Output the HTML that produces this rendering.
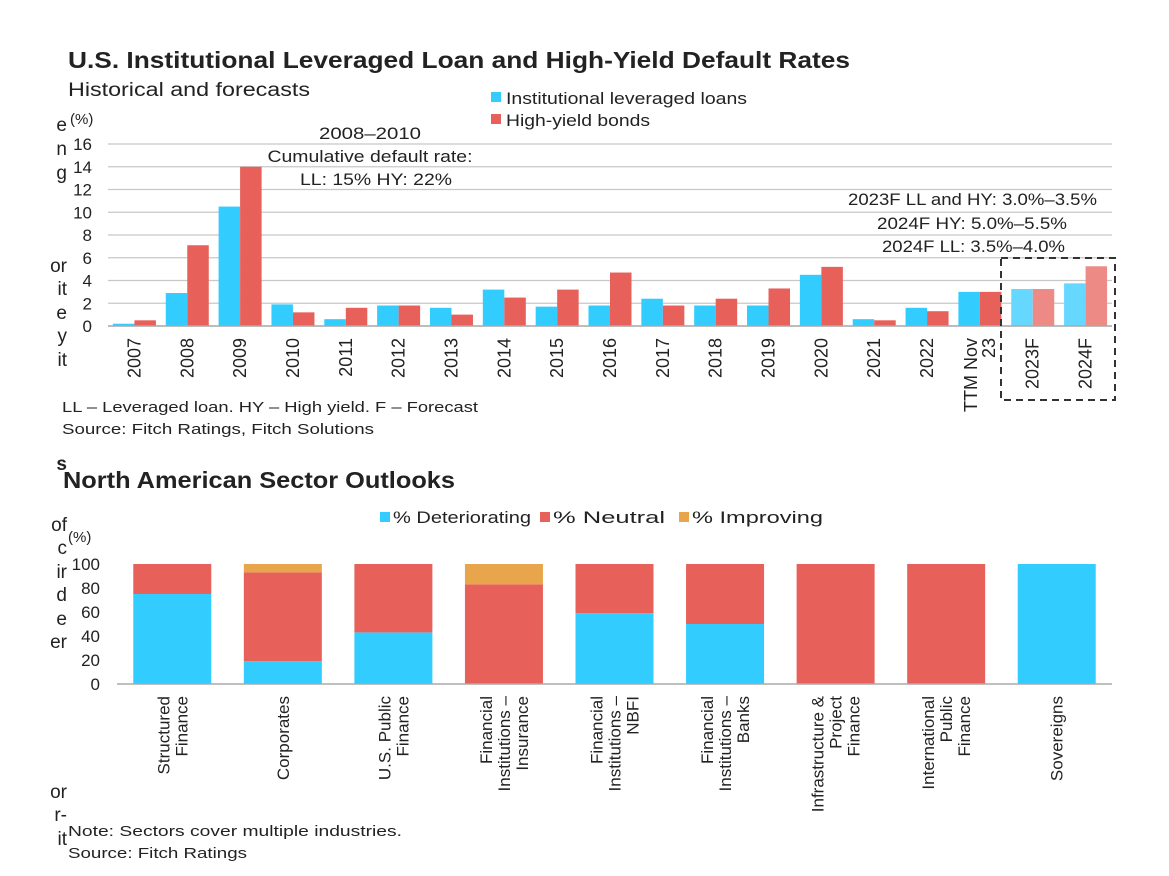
<!DOCTYPE html>
<html><head><meta charset="utf-8">
<style>
body{margin:0;background:#fff;font-family:"Liberation Sans",sans-serif;color:#222;}
svg{display:block}
text{font-family:"Liberation Sans",sans-serif;fill:#222}
</style></head>
<body>
<svg width="1169" height="876" viewBox="0 0 1169 876">
<g font-size="19" text-anchor="end" fill="#333">
<text x="67" y="131">e</text><text x="67" y="155">n</text><text x="67" y="179">g</text>
<text x="67" y="272">or</text><text x="67" y="295">it</text><text x="67" y="319">e</text><text x="67" y="342">y</text><text x="67" y="366">it</text>
<text x="67" y="470" font-weight="bold">s</text>
<text x="67" y="531">of</text><text x="67" y="554">c</text><text x="67" y="578">ir</text><text x="67" y="601">d</text><text x="67" y="625">e</text><text x="67" y="648">er</text>
<text x="67" y="798">or</text><text x="67" y="821">r-</text><text x="67" y="845">it</text>
</g>
<text x="68" y="68" font-size="23" font-weight="bold" textLength="782" lengthAdjust="spacingAndGlyphs">U.S.  Institutional Leveraged Loan and High-Yield Default Rates</text>
<text x="68" y="96" font-size="19" textLength="242" lengthAdjust="spacingAndGlyphs">Historical and forecasts</text>
<text x="70" y="124" font-size="15">(%)</text>
<g font-size="17">
<rect x="491" y="92" width="10" height="10" fill="#33CCFF"/>
<text x="506" y="104" textLength="241" lengthAdjust="spacingAndGlyphs">Institutional leveraged loans</text>
<rect x="491" y="114" width="10" height="10" fill="#E8605A"/>
<text x="506" y="126" textLength="144" lengthAdjust="spacingAndGlyphs">High-yield bonds</text>
</g>
<g id="c1"></g>
<g font-size="17" text-anchor="middle">
<text x="370" y="139" textLength="102" lengthAdjust="spacingAndGlyphs">2008–2010</text>
<text x="370" y="162" textLength="205" lengthAdjust="spacingAndGlyphs">Cumulative default rate:</text>
<text x="376" y="185" textLength="152" lengthAdjust="spacingAndGlyphs">LL: 15%     HY: 22%</text>
<text x="1097" y="205" text-anchor="end" textLength="249" lengthAdjust="spacingAndGlyphs">2023F LL and HY: 3.0%–3.5%</text>
<text x="1067" y="229" text-anchor="end" textLength="190" lengthAdjust="spacingAndGlyphs">2024F HY: 5.0%–5.5%</text>
<text x="1065" y="252" text-anchor="end" textLength="183" lengthAdjust="spacingAndGlyphs">2024F LL: 3.5%–4.0%</text>
</g>
<rect x="1001" y="258" width="114" height="142" fill="none" stroke="#333" stroke-width="2" stroke-dasharray="7,5"/>
<text x="62" y="412" font-size="15" textLength="416" lengthAdjust="spacingAndGlyphs">LL – Leveraged loan. HY – High yield. F – Forecast</text>
<text x="62" y="434" font-size="15" textLength="312" lengthAdjust="spacingAndGlyphs">Source: Fitch Ratings, Fitch Solutions</text>

<text x="63" y="488" font-size="23" font-weight="bold" textLength="392" lengthAdjust="spacingAndGlyphs">North American Sector Outlooks</text>
<text x="68" y="542" font-size="15">(%)</text>
<g font-size="17">
<rect x="380" y="512" width="10" height="10" fill="#33CCFF"/>
<text x="393" y="523" textLength="138" lengthAdjust="spacingAndGlyphs">% Deteriorating</text>
<rect x="540" y="512" width="10" height="10" fill="#E8605A"/>
<text x="553" y="523" textLength="112" lengthAdjust="spacingAndGlyphs">% Neutral</text>
<rect x="679" y="512" width="10" height="10" fill="#E8A54B"/>
<text x="692" y="523" textLength="131" lengthAdjust="spacingAndGlyphs">% Improving</text>
</g>
<g id="c2"></g>
<text x="68" y="836" font-size="15" textLength="334" lengthAdjust="spacingAndGlyphs">Note: Sectors cover multiple industries.</text>
<text x="68" y="858" font-size="15" textLength="179" lengthAdjust="spacingAndGlyphs">Source: Fitch Ratings</text>
</svg>
<script>
const years=["2007","2008","2009","2010","2011","2012","2013","2014","2015","2016","2017","2018","2019","2020","2021","2022","TTM Nov 23","2023F","2024F"];
const llValues=[0.2,2.9,10.5,1.9,0.6,1.8,1.6,3.2,1.7,1.8,2.4,1.8,1.8,4.5,0.6,1.6,3.0,3.25,3.75];
const hyValues=[0.5,7.1,14.0,1.2,1.6,1.8,1.0,2.5,3.2,4.7,1.8,2.4,3.3,5.2,0.5,1.3,3.0,3.25,5.25];
const yTicks1=[0,2,4,6,8,10,12,14,16];
const sectors=[["Structured","Finance"],["Corporates"],["U.S. Public","Finance"],["Financial","Institutions –","Insurance"],["Financial","Institutions –","NBFI"],["Financial","Institutions –","Banks"],["Infrastructure &","Project","Finance"],["International","Public","Finance"],["Sovereigns"]];
const deteriorating=[75,19,43,0,59,50,0,0,100];
const neutral=[25,74,57,83,41,50,100,100,0];
const improving=[0,7,0,17,0,0,0,0,0];
const yTicks2=[0,20,40,60,80,100];
const NS="http://www.w3.org/2000/svg";
function mk(p,t,a){const e=document.createElementNS(NS,t);for(const k in a)e.setAttribute(k,a[k]);p.appendChild(e);return e;}
const c1=document.getElementById('c1');
const L1=108,R1=1112,T1=144,B1=326;
const y1=v=>B1-(v/16)*(B1-T1);
const bw1=(R1-L1)/years.length;
const x1=i=>L1+i*bw1;
yTicks1.forEach(t=>{
 const g=mk(c1,'line',{x1:L1,x2:R1,y1:y1(t),y2:y1(t),stroke:'#c8c8c8','stroke-width':1.3});
 
 const tx=mk(c1,'text',{x:92,y:y1(t)+6,'font-size':17,'text-anchor':'end'});tx.textContent=t;
 
});
years.forEach((yr,i)=>{
 const f=yr.endsWith('F');
 const w=21.5,cx=x1(i)+bw1/2;
 const a=mk(c1,'rect',{x:cx-w,y:y1(llValues[i]),width:w,height:B1-y1(llValues[i]),fill:f?'#66D8FF':'#33CCFF'});
 
 const b=mk(c1,'rect',{x:cx,y:y1(hyValues[i]),width:w,height:B1-y1(hyValues[i]),fill:f?'#EE8A86':'#E8605A'});
 
 const lines=yr.startsWith('TTM')?['TTM Nov','23']:[yr];
 lines.forEach((ln,j)=>{
  const tx=mk(c1,'text',{'font-size':18,'text-anchor':'end',transform:`translate(${cx+6+j*18-(lines.length-1)*9},${B1+12}) rotate(-90)`});tx.textContent=ln;
  
 });
});
mk(c1,'line',{x1:L1,x2:R1,y1:B1,y2:B1,stroke:'#aaa','stroke-width':1.5});
const c2=document.getElementById('c2');
const L2=117,R2=1112,T2=564,B2=684;
const y2=v=>B2-(v/100)*(B2-T2);
const bw2=(R2-L2)/sectors.length;
yTicks2.forEach(t=>{
 const tx=mk(c2,'text',{x:100,y:y2(t)+6,'font-size':17,'text-anchor':'end'});tx.textContent=t;
 
});
sectors.forEach((s,i)=>{
 const cx=L2+i*bw2+bw2/2,w=78;
 let base=0;
 [[deteriorating,'#33CCFF','det'],[neutral,'#E8605A','neu'],[improving,'#E8A54B','imp']].forEach(([arr,c,n])=>{
  const v=arr[i];if(v>0){const r=mk(c2,'rect',{x:cx-w/2,y:y2(base+v),width:w,height:y2(base)-y2(base+v),fill:c});
  }
  base+=v;
 });
 s.forEach((ln,j)=>{
  const tx=mk(c2,'text',{'font-size':17,'text-anchor':'end',transform:`translate(${cx+6+j*18-(s.length-1)*9},${B2+12}) rotate(-90)`});tx.textContent=ln;
  
 });
});
mk(c2,'line',{x1:L2,x2:R2,y1:B2,y2:B2,stroke:'#aaa','stroke-width':1.5});
</script>
</body></html>
